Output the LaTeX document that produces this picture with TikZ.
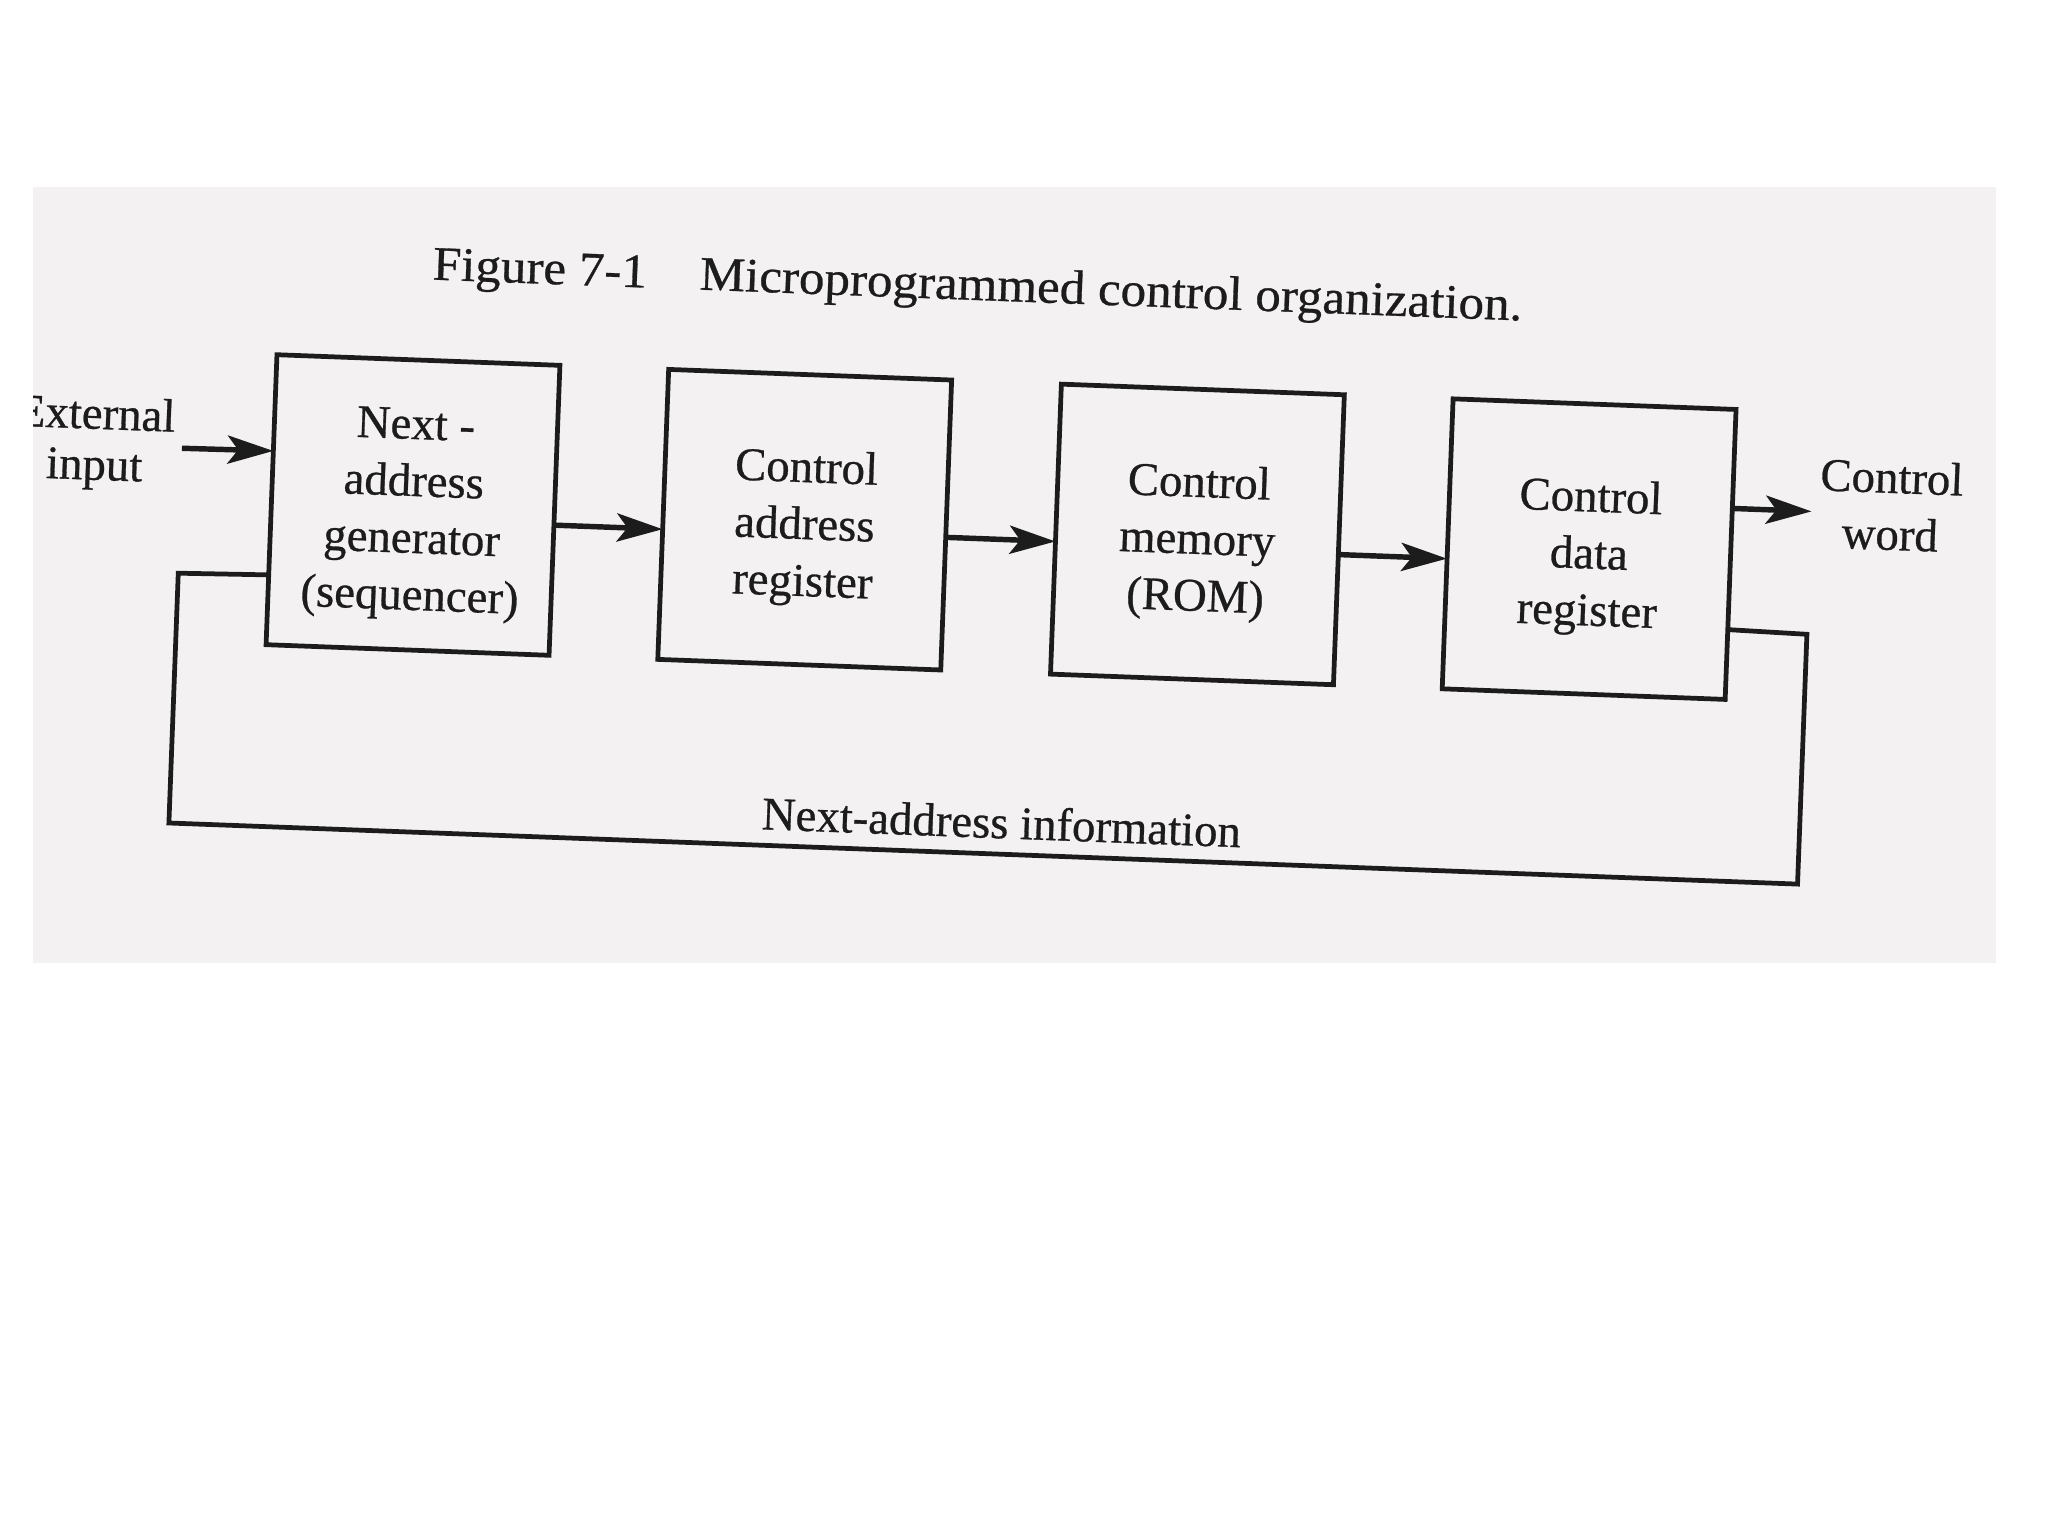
\documentclass[tikz,border=0pt]{standalone}
\usepackage{fontspec}
\setmainfont[FakeBold=0.6]{Liberation Serif}
\newfontfamily\titlefont[FakeStretch=1.06,FakeBold=0.6]{Liberation Serif}
\usetikzlibrary{arrows.meta}
\definecolor{scanbg}{RGB}{243,241,241}
\definecolor{ink}{RGB}{28,28,28}
\newcommand\toppad{\rule{0pt}{13.9pt}}
\begin{document}
\begin{tikzpicture}[x=0.01cm,y=-0.01cm,
  blk/.style={draw=ink,line width=1.35pt,minimum width=2.83cm,minimum height=2.90cm,
    inner sep=0pt,outer sep=0pt,align=center,text=ink,
    font=\fontsize{13.3pt}{16.2pt}\selectfont},
  lbl/.style={text=ink,align=center,inner sep=0pt,
    font=\fontsize{13.3pt}{16.2pt}\selectfont},
  flow/.style={draw=ink,line width=1.55pt,-{Stealth[length=13pt,width=8pt,inset=3pt]}},
  fb/.style={draw=ink,line width=1.35pt,line join=miter}]
\fill[white] (0,0) rectangle (2048,1536);
\useasboundingbox (0,0) rectangle (2048,1536);
\fill[scanbg] (33,187) rectangle (1996,963);
\begin{scope}
\clip (33,187) rectangle (1996,963);
\begin{scope}[rotate around={-2.15:(413,505)},transform shape]
  \node[blk] (nag) at (413,505) {\toppad Next -\\address\\generator\\(sequencer)};
  \node[blk] (car) at (805,505) {\toppad Control\\address\\register};
  \node[blk] (cm)  at (1198,505) {\toppad Control\\memory\\(ROM)};
  \node[blk] (cdr) at (1590,505) {\toppad Control\\data\\register};
  \node[lbl,font=\fontsize{13.3pt}{14.5pt}\selectfont] (ext) at (93,455) {External\\input};
  \node[lbl] (cw) at (1890,450) {Control\\word};
  \node[lbl,anchor=base] (nai) at (1013,816) {Next-address information};
  \node[lbl,anchor=base,font=\titlefont\fontsize{13.7pt}{16pt}\selectfont] (title) at (969,279)
    {Figure 7-1\hspace{1.1em}Microprogrammed control organization.};
  \coordinate (extin) at (180,457);
  \coordinate (cwout) at (1811,459);
  \coordinate (fb1) at (1811,582);
  \coordinate (fb2) at (1811,832);
  \coordinate (fb3) at (181,832);
  \coordinate (fb4) at (181,582);
  \draw[flow] (extin) -- (nag.161.26);
  \draw[flow] (nag.-6.05) -- (car.186.05);
  \draw[flow] (car.-5.65) -- (cm.185.65);
  \draw[flow] (cm.-6.85) -- (cdr.186.85);
  \draw[flow] (cdr.18) -- (cwout);
  \draw[fb] (cdr.-28.55) -- (fb1) -- (fb2) -- (fb3) -- (fb4) -- (nag.208.55);
\end{scope}
\end{scope}
\end{tikzpicture}
\end{document}
